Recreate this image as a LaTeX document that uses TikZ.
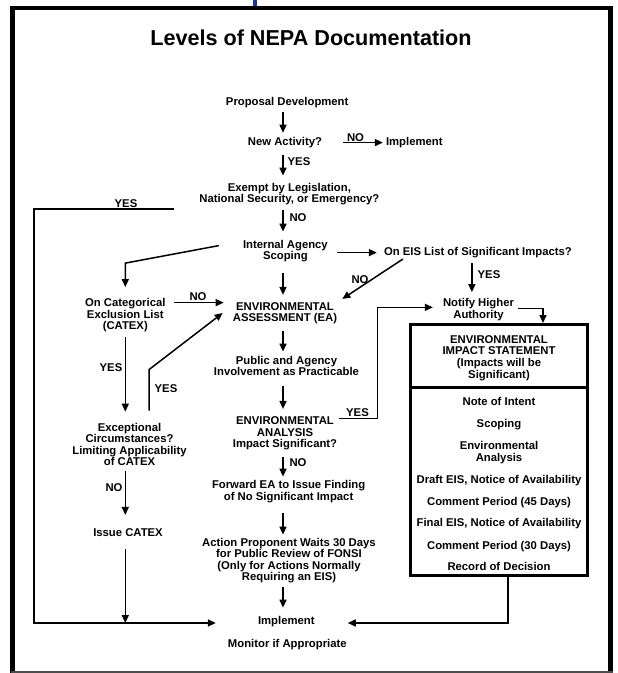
\documentclass[tikz,border=0pt]{standalone}
\usepackage{fontspec}
\setmainfont{Liberation Sans}
\usetikzlibrary{arrows.meta}
\definecolor{tickblue}{RGB}{25,55,160}
\begin{document}
\begin{tikzpicture}[x=1pt,y=-1pt,
  txt/.style={font=\fontsize{11.3}{11.5}\selectfont\bfseries, align=center, inner sep=0pt, anchor=base},
  lbl/.style={txt},
  arr/.style={line width=1.5pt, -{Triangle[length=8pt,width=7pt]}},
  framel/.style={line width=4.5pt, line join=miter}]
\useasboundingbox (0,0) rectangle (618,673);
% frame
\fill[white] (0,0) rectangle (618,673);
\fill[tickblue] (253,0) rectangle (257,6);
\draw[framel] (12.5,673) -- (12.5,8) -- (610.5,8) -- (610.5,673);
\draw[line width=1.2pt, black!70] (10.5,672) -- (612.5,672);
% title
\node[txt, font=\fontsize{21.6}{25}\selectfont\bfseries] (title) at (311,45) {Levels of NEPA Documentation};
% main column (base = baseline of last line)
\node[txt] (prop) at (287.2,105) {Proposal Development};
\node[txt] (newact) at (285,145.5) {New Activity?};
\node[txt] (impl1) at (414.3,145.5) {Implement};
\node[txt] (exempt) at (289.4,202.5) {Exempt by Legislation,\\National Security, or Emergency?};
\node[txt] (internal) at (285.4,259.5) {Internal Agency\\Scoping};
\node[txt] (oneis) at (477.9,255.5) {On EIS List of Significant Impacts?};
\node[txt] (catex) at (125.3,329.5) {On Categorical\\Exclusion List\\(CATEX)};
\node[txt] (ea) at (285,321.5) {ENVIRONMENTAL\\ASSESSMENT (EA)};
\node[txt] (notify) at (478.5,318) {Notify Higher\\Authority};
\node[txt] (public) at (286.5,375.5) {Public and Agency\\Involvement as Practicable};
\node[txt] (analysis) at (285,447.5) {ENVIRONMENTAL\\ANALYSIS\\Impact Significant?};
\node[txt] (exc) at (129.5,465.5) {Exceptional\\Circumstances?\\Limiting Applicability\\of CATEX};
\node[txt] (forward) at (288.6,500) {Forward EA to Issue Finding\\of No Significant Impact};
\node[txt] (issue) at (128,536) {Issue CATEX};
\node[txt] (action) at (289,580.5) {Action Proponent Waits 30 Days\\for Public Review of FONSI\\(Only for Actions Normally\\Requiring an EIS)};
\node[txt] (impl) at (286.3,624) {Implement};
\node[txt] (monitor) at (287.3,647) {Monitor if Appropriate};
% EIS box
\node[draw, line width=3pt, minimum width=177pt, minimum height=251pt, inner sep=0pt] (eis) at (499,450) {};
\coordinate (divy) at (0,387);
\draw[line width=3pt] (eis.west |- divy) -- (eis.east |- divy);
\node[txt, font=\fontsize{11.3}{11.8}\selectfont\bfseries] (eishead) at (499,378.4) {ENVIRONMENTAL\\IMPACT STATEMENT\\(Impacts will be\\Significant)};
\node[txt] (note) at (499,405) {Note of Intent};
\node[txt] (scop) at (499,427) {Scoping};
\node[txt] (envan) at (499,461) {Environmental\\Analysis};
\node[txt] (draft) at (499,483) {Draft EIS, Notice of Availability};
\node[txt] (com45) at (499,505) {Comment Period (45 Days)};
\node[txt] (final) at (499,526) {Final EIS, Notice of Availability};
\node[txt] (com30) at (499,549) {Comment Period (30 Days)};
\node[txt] (rod) at (499,570) {Record of Decision};
% labels
\node[lbl] (yesA) at (299,165) {YES};
\node[lbl] (noA) at (355.5,141) {NO};
\node[lbl] (yesL) at (126,207) {YES};
\node[lbl] (noB) at (298,221) {NO};
\node[lbl] (noC) at (198,300) {NO};
\node[lbl] (noD) at (360,283) {NO};
\node[lbl] (yesB) at (489,278) {YES};
\node[lbl] (yesC) at (111,371) {YES};
\node[lbl] (yesD) at (166,392.5) {YES};
\node[lbl] (yesE) at (357.5,416.5) {YES};
\node[lbl] (noE) at (298,466) {NO};
\node[lbl] (noF) at (114,491) {NO};
% coordinates
\coordinate (col) at (283,0);
\coordinate (railBot) at (34,623);
% main column arrows
\foreach \a/\b/\s/\e in {prop/newact/4.6/4.4, newact/exempt/7/7, exempt/internal/5/8, internal/ea/11/7, ea/public/7/4, public/analysis/10/7.5, analysis/forward/7/3.5, forward/action/10.6/3, action/impl/4/8}
  \draw[arr, shorten <=\s pt, shorten >=\e pt] (\a.south -| col) -- (\b.north -| col);
% NO -> Implement
\draw[arr, shorten <=21pt, shorten >=3pt] (newact.east) -- (impl1.west);
% exempt YES -> implement (left rail)
\draw[arr, shorten >=42pt] ([shift={(-25,4)}]exempt.south west) -| (railBot) -- (railBot -| impl.west);
% internal -> catex
\draw[arr, shorten >=11pt] ([shift={(-24,6)}]internal.north west) -- ([yshift=35pt]catex.north) -- (catex.north);
% internal -> on EIS list
\draw[arr, shorten <=9pt, shorten >=7pt] (oneis.west -| internal.east) -- (oneis.west);
% on EIS list -> EA (NO)
\draw[arr] ([shift={(19,1)}]oneis.south west) -- ([shift={(5,-3)}]ea.north east);
% on EIS list -> notify (YES)
\draw[arr, shorten <=5pt, shorten >=6pt] ([xshift=-6pt]oneis.south) -- ([xshift=-6pt]oneis.south |- notify.north);
% catex -> EA (NO)
\coordinate (c1) at ([shift={(8,4.5)}]catex.north east);
\draw[arr, shorten >=9pt] (c1) -- (c1 -| ea.west);
% catex -> exceptional (YES)
\draw[arr, shorten <=5pt, shorten >=11pt] (catex.south) -- (catex.south |- exc.north);
% exceptional -> EA (YES)
\draw[arr] ([shift={(19.5,-12)}]exc.north) -- ++(0,-41) -- ([xshift=-10pt]ea.west);
% exceptional -> issue (NO)
\draw[arr, shorten <=5.5pt, shorten >=13pt] (exc.south -| catex.south) -- (issue.north -| catex.south);
% issue -> rail
\draw[arr, shorten <=13pt] (issue.south -| catex.south) -- (railBot -| catex.south);
% analysis -> notify (YES)
\coordinate (c2) at ([shift={(2,2)}]analysis.north east);
\draw[arr, shorten >=10pt] (c2) -- ++(38,0) |- ([yshift=2pt]notify.west);
% notify -> EIS
\draw[arr, shorten <=4pt] ([yshift=1pt]notify.east) -| ([xshift=44pt]eis.north);
% EIS -> implement
\draw[arr, shorten >=33pt] ([xshift=9pt]eis.south) |- (railBot -| impl.east);
\end{tikzpicture}
\end{document}
